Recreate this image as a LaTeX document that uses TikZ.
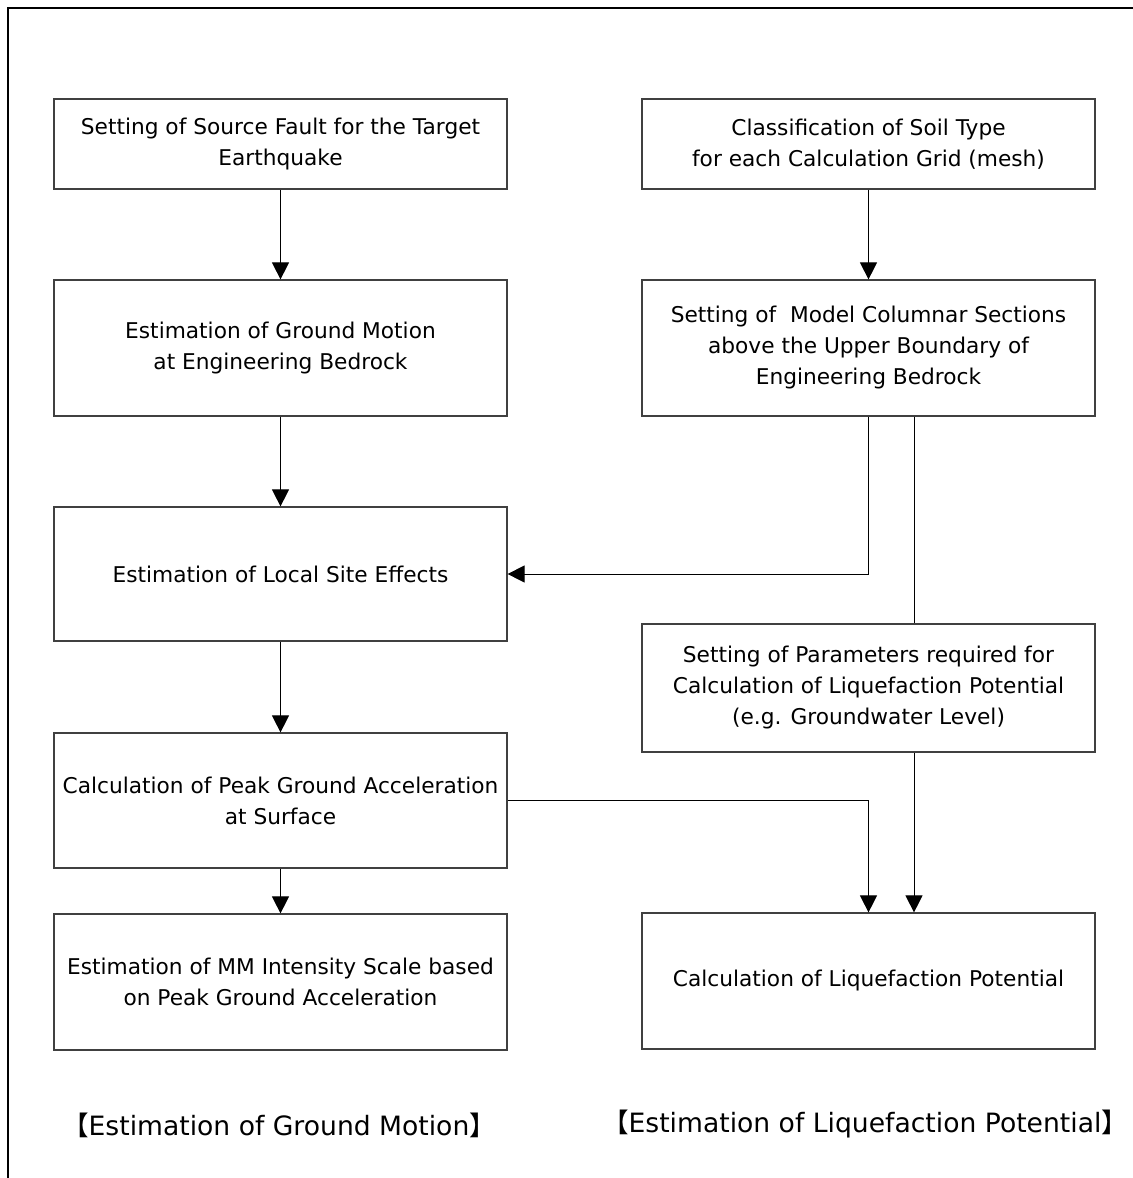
\documentclass[tikz,border=0pt]{standalone}
\usepackage{fontspec}
\setmainfont{DejaVu Sans}
\newfontfamily\cjk{Noto Sans CJK JP}
\usetikzlibrary{arrows.meta}
\begin{document}
\begin{tikzpicture}[x=0.5pt,y=-0.5pt,
  box/.style={draw=black!75, line width=0.6pt, fill=white, minimum width=226.5pt,
    align=center, inner sep=0pt, font=\fontsize{10.85}{15.5}\selectfont},
  conn/.style={line width=0.5pt},
  arr/.style={conn, -{Triangle[length=8.5pt,width=8.5pt]}},
  lbl/.style={font=\fontsize{13.3}{16}\selectfont, inner sep=0pt}]
\useasboundingbox (0,0) rectangle (1133,1178);
\draw[line width=1pt] (8,1178) -- (8,8) -- (1133,8);

% left column
\node[box, minimum height=45pt] (A) at (280.5,144) {Setting of Source Fault for the Target\\Earthquake};
\node[box, minimum height=68pt] (C) at (280.5,348) {Estimation of Ground Motion\\at Engineering Bedrock};
\node[box, minimum height=67pt] (E) at (280.5,574) {Estimation of Local Site Effects};
\node[box, minimum height=67.5pt] (G) at (280.5,800.5) {Calculation of Peak Ground Acceleration\\at Surface};
\node[box, minimum height=68pt] (H) at (280.5,982) {Estimation of MM Intensity Scale based\\on Peak Ground Acceleration};

% right column
\node[box, minimum height=45pt] (B) at (868.5,144) {Classification of Soil Type\\for each Calculation Grid (mesh)};
\node[box, minimum height=68pt] (D) at (868.5,348) {Setting of \ Model Columnar Sections\\above the Upper Boundary of\\Engineering Bedrock};
\node[box, minimum height=64pt] (F) at (868.5,688) {Setting of Parameters required for\\Calculation of Liquefaction Potential\\(e.g. Groundwater Level)};
\node[box, minimum height=68pt] (I) at (868.5,981) {Calculation of Liquefaction Potential};

% connectors
\draw[arr] (A) -- (C);
\draw[arr] (C) -- (E);
\draw[arr] (E) -- (G);
\draw[arr] (G) -- (H);
\draw[arr] (B) -- (D);
\draw[arr] (D.south) |- (E.east);
\draw[conn] ([xshift=22.75pt]D.south) -- ([xshift=22.75pt]F.north);
\draw[arr] ([xshift=22.75pt]F.south) -- ([xshift=22.75pt]I.north);
\draw[arr] (G.east) -| (I.north);

% labels
\node[lbl] (L1) at (279,1125) {{\cjk 【}Estimation of Ground Motion{\cjk 】}};
\node[lbl] (L2) at (865,1124) {{\cjk 【}Estimation of Liquefaction Potential{\cjk 】}};
\end{tikzpicture}
\end{document}
